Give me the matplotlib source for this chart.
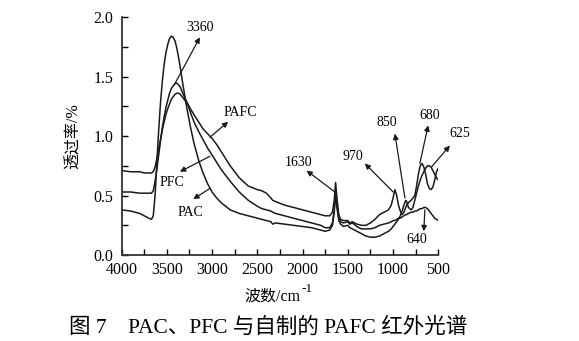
import matplotlib
matplotlib.use("Agg")
import matplotlib.pyplot as plt
from matplotlib.ticker import MultipleLocator, FormatStrFormatter

plt.rcParams['font.family'] = ['Liberation Serif', 'Noto Sans CJK SC']
plt.rcParams['axes.unicode_minus'] = False

# wavenumber grid (cm-1) and transmittance
wavenumber = [4000, 3900, 3800, 3750, 3700, 3670, 3650, 3630, 3610, 3590,
              3570, 3550, 3530, 3510, 3490, 3470, 3450, 3430, 3410, 3390,
              3370, 3350, 3330, 3300, 3270, 3240, 3200, 3150, 3100, 3050,
              3000, 2950, 2900, 2850, 2800, 2700, 2600, 2500, 2450, 2400,
              2350, 2330, 2300, 2200, 2100, 2000, 1900, 1800, 1750, 1700,
              1670, 1650, 1635, 1620, 1600, 1580, 1550, 1500, 1480, 1450,
              1400, 1350, 1300, 1250, 1200, 1150, 1100, 1050, 1020, 1000,
              980, 960, 940, 920, 900, 880, 860, 850, 830, 800,
              780, 760, 740, 720, 700, 680, 660, 640, 620, 600,
              580, 560, 540, 520, 500]

pafc = [0.71, 0.70, 0.70, 0.69, 0.69, 0.69, 0.70, 0.74, 0.81, 0.89,
        0.97, 1.05, 1.12, 1.18, 1.23, 1.27, 1.31, 1.33, 1.35, 1.36,
        1.36, 1.35, 1.33, 1.30, 1.27, 1.23, 1.18, 1.12, 1.06, 1.02,
        0.98, 0.93, 0.87, 0.81, 0.75, 0.65, 0.58, 0.55, 0.54, 0.52,
        0.48, 0.46, 0.45, 0.42, 0.40, 0.38, 0.36, 0.34, 0.33, 0.33,
        0.36, 0.46, 0.61, 0.48, 0.34, 0.30, 0.29, 0.29, 0.27, 0.28,
        0.26, 0.25, 0.25, 0.27, 0.30, 0.34, 0.36, 0.38, 0.42, 0.48,
        0.55, 0.50, 0.42, 0.37, 0.34, 0.36, 0.40, 0.42, 0.44, 0.46,
        0.48, 0.50, 0.58, 0.68, 0.75, 0.77, 0.74, 0.68, 0.60, 0.56,
        0.55, 0.57, 0.63, 0.70, 0.73]

pfc = [0.53, 0.53, 0.52, 0.52, 0.52, 0.52, 0.54, 0.62, 0.72, 0.84,
       0.96, 1.07, 1.16, 1.24, 1.30, 1.36, 1.40, 1.42, 1.44, 1.445,
       1.43, 1.41, 1.37, 1.32, 1.27, 1.20, 1.12, 1.04, 0.97, 0.90,
       0.84, 0.78, 0.72, 0.67, 0.62, 0.53, 0.46, 0.41, 0.39, 0.38,
       0.37, 0.36, 0.35, 0.33, 0.31, 0.29, 0.27, 0.25, 0.23, 0.23,
       0.27, 0.38, 0.54, 0.42, 0.31, 0.28, 0.27, 0.28, 0.26, 0.27,
       0.24, 0.22, 0.22, 0.22, 0.23, 0.25, 0.26, 0.27, 0.28, 0.29,
       0.29, 0.30, 0.31, 0.31, 0.32, 0.33, 0.34, 0.34, 0.35, 0.36,
       0.36, 0.37, 0.37, 0.38, 0.39, 0.39, 0.40, 0.40, 0.39, 0.37,
       0.35, 0.33, 0.31, 0.30, 0.29]

pac = [0.38, 0.37, 0.35, 0.33, 0.31, 0.30, 0.33, 0.50, 0.78, 1.05,
       1.28, 1.46, 1.60, 1.70, 1.77, 1.82, 1.84, 1.83, 1.80, 1.74,
       1.66, 1.57, 1.47, 1.33, 1.20, 1.08, 0.94, 0.80, 0.69, 0.60,
       0.53, 0.48, 0.44, 0.41, 0.38, 0.35, 0.33, 0.31, 0.30, 0.29,
       0.28, 0.26, 0.27, 0.26, 0.25, 0.24, 0.23, 0.21, 0.20, 0.21,
       0.25, 0.36, 0.53, 0.40, 0.29, 0.26, 0.24, 0.25, 0.23, 0.22,
       0.20, 0.18, 0.16, 0.15, 0.15, 0.16, 0.18, 0.20, 0.22, 0.24,
       0.26, 0.28, 0.30, 0.33, 0.37, 0.42, 0.46, 0.45, 0.40, 0.38,
       0.40, 0.46, 0.52, 0.58, 0.63, 0.67, 0.70, 0.73, 0.75, 0.75,
       0.74, 0.71, 0.68, 0.65, 0.63]

# peak labels: text, point on the curve, arrow tip, label position
labels = ["3360", "PAFC", "PFC", "PAC", "1630", "970", "850", "680", "625", "640"]
arrow_from = [(3411, 1.44), (3024, 0.99), (3024, 0.83), (3024, 0.56), (1643, 0.53),
              (999, 0.53), (869, 0.48), (704, 0.77), (575, 0.74), (649, 0.38)]
arrow_to = [(3135, 1.83), (2822, 1.12), (3356, 0.70), (3208, 0.47), (1956, 0.71),
            (1312, 0.77), (980, 1.02), (612, 1.09), (372, 0.92), (660, 0.20)]
text_at = [(3135, 1.91), (2693, 1.20), (3447, 0.61), (3245, 0.36), (2049, 0.78),
           (1441, 0.83), (1072, 1.11), (593, 1.17), (262, 1.02), (740, 0.13)]

fig = plt.figure(figsize=(5.79, 3.41), dpi=100)
ax = fig.add_axes([0.210, 0.252, 0.547, 0.698])

for series in (pafc, pfc, pac):
    ax.plot(wavenumber, series, color='#1a1a1a', lw=1.1)

for lab, p0, p1, pt in zip(labels, arrow_from, arrow_to, text_at):
    ax.annotate('', xy=p1, xytext=p0, annotation_clip=False,
                arrowprops=dict(arrowstyle='-|>', color='#1a1a1a', lw=0.9,
                                mutation_scale=8, shrinkA=0, shrinkB=0))
    ax.text(pt[0], pt[1], lab, fontsize=10, ha='center', va='center', clip_on=False)

ax.set_xlim(4000, 500)
ax.set_ylim(0, 2.0)
ax.xaxis.set_major_locator(MultipleLocator(500))
ax.xaxis.set_minor_locator(MultipleLocator(250))
ax.yaxis.set_major_locator(MultipleLocator(0.5))
ax.yaxis.set_minor_locator(MultipleLocator(0.25))
ax.yaxis.set_major_formatter(FormatStrFormatter('%.1f'))
ax.tick_params(which='both', direction='in', length=4, width=1.0, labelsize=11.5)
ax.tick_params(axis='x', pad=5)
ax.tick_params(axis='y', pad=6)
for side in ('top', 'right'):
    ax.spines[side].set_visible(False)
for side in ('left', 'bottom'):
    ax.spines[side].set_linewidth(1.3)
    ax.spines[side].set_color('#333333')

# x label with a raised "-1"
fig.text(0.519, 0.118, '波数/cm', fontsize=11.5, ha='right', va='baseline')
fig.text(0.520, 0.143, '-1', fontsize=9.5, ha='left', va='baseline')
ax.set_ylabel('透过率/%', fontsize=11.5, labelpad=8)

fig.text(0.463, 0.04, '图 7    PAC、PFC 与自制的 PAFC 红外光谱', fontsize=15.5,
         ha='center', va='center', fontweight=500)

fig.savefig('out.png', dpi=100)
